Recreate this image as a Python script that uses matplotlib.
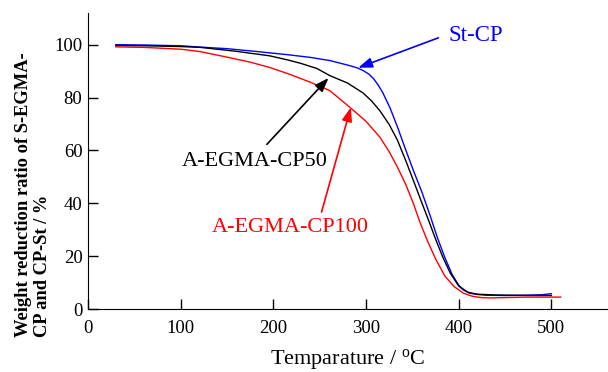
import matplotlib
matplotlib.use('Agg')
import matplotlib.pyplot as plt

plt.rcParams['font.family'] = ['Liberation Serif', 'DejaVu Serif']

# St-CP (blue)
temp_st = [30, 60, 100, 121, 150, 180, 216, 240, 261, 280, 290, 297, 303, 308, 313, 318, 326,
           334, 342, 351, 360, 369, 377, 385, 393, 400, 405, 412, 420, 430, 450, 470, 490, 500]
wt_st = [100, 99.9, 99.6, 99.1, 98.5, 97.5, 96.2, 95.2, 94, 92.3, 91.3, 90.2, 88.9, 87.2, 84.8, 81.9, 76,
         68.8, 61, 52.5, 44.5, 35.5, 27, 19.5, 13, 9, 7.2, 6, 5.5, 5.2, 5.1, 5.2, 5.4, 5.8]

# A-EGMA-CP50 (black)
temp_50 = [30, 60, 100, 121, 160, 196, 216, 230, 247, 261, 280, 297, 306, 315, 325, 334, 343,
           351, 359, 367, 375, 383, 391, 400, 410, 420, 440, 460, 480, 500]
wt_50 = [99.7, 99.6, 99.3, 99, 97.5, 95.8, 94.2, 92.9, 91, 88.3, 85.5, 81.7, 78.7, 75, 69.8, 63.8, 56,
         48.7, 41.3, 34, 26.5, 19.5, 13.5, 8.7, 6.3, 5.6, 5.3, 5.2, 5.1, 5.1]

# A-EGMA-CP100 (red)
temp_100 = [30, 60, 100, 121, 150, 175, 196, 216, 240, 261, 283, 300, 315, 325, 334, 343,
            351, 358, 366, 375, 385, 395, 405, 415, 425, 434, 450, 470, 490, 510]
wt_100 = [99.2, 99, 98.3, 97.4, 95.3, 93.4, 91.4, 89, 85.8, 82.6, 76.2, 71, 65, 59.5, 53.6, 47,
          40, 33, 26, 19, 12.5, 8.5, 6, 4.8, 4.3, 4.2, 4.3, 4.5, 4.5, 4.5]

x_ticks = [0, 100, 200, 300, 400, 500]
y_ticks = [0, 20, 40, 60, 80, 100]

fig = plt.figure(figsize=(6.08, 3.72), dpi=100)
ax = fig.add_axes([88 / 608, 63 / 372, 519 / 608, 296 / 372])

ax.plot(temp_st, wt_st, color='blue', lw=1.0)
ax.plot(temp_50, wt_50, color='black', lw=1.0)
ax.plot(temp_100, wt_100, color='red', lw=1.0)

ax.set_xlim(0, 560)
ax.set_ylim(0, 112)
ax.set_xticks(x_ticks)
ax.set_yticks(y_ticks)
ax.spines['top'].set_visible(False)
ax.spines['right'].set_visible(False)
ax.tick_params(direction='in', length=7, width=1, labelsize=13.5)
ax.tick_params(axis='x', pad=8)
ax.tick_params(axis='y', pad=4)

ax.set_xlabel('Temparature / $\\mathregular{^oC}$', fontsize=16, labelpad=7)
fig.text(33 / 608, 35 / 372, 'Weight reduction ratio of S-EGMA-\nCP and CP-St / %',
         fontsize=13.3, fontweight='bold', rotation=90, ha='center', va='bottom',
         multialignment='left', linespacing=1.15)

arrow = dict(arrowstyle='-|>,head_length=0.6,head_width=0.22', lw=1.2,
             mutation_scale=14, shrinkA=0, shrinkB=0)
ax.annotate('', xy=(291.6, 91.3), xytext=(378, 102.6),
            arrowprops=dict(arrow, color='blue'))
ax.text(389, 103.6, 'St-CP', color='blue', fontsize=16.5, ha='left', va='center')

ax.annotate('', xy=(259.5, 87.4), xytext=(193, 62.3),
            arrowprops=dict(arrow, color='black'))
ax.text(180, 56, 'A-EGMA-CP50', color='black', fontsize=16, ha='center', va='center')

ax.annotate('', xy=(283.6, 76.3), xytext=(252, 36.7),
            arrowprops=dict(arrow, color='red'))
ax.text(218, 30.8, 'A-EGMA-CP100', color='red', fontsize=16, ha='center', va='center')

fig.savefig('out.png', dpi=100)
